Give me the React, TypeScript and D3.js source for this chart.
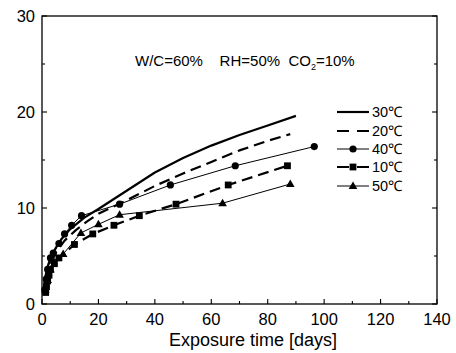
import React, { useRef, useEffect } from 'react';
import * as d3 from 'd3';

// Carbonation depth vs exposure time
const s30x = [0.5, 1, 2, 3, 5, 7, 10, 15, 20, 30, 40, 50, 60, 70, 80, 90];
const s30y = [1.0, 2.6, 3.9, 4.8, 5.9, 6.8, 7.8, 9.0, 9.9, 11.8, 13.7, 15.2, 16.5, 17.6, 18.6, 19.6];

const s20x = [0.5, 1, 2, 3, 5, 8, 12, 16, 20, 30, 40, 50, 60, 70, 80, 88];
const s20y = [1.0, 2.0, 3.3, 4.2, 5.4, 6.6, 7.7, 8.6, 9.4, 10.8, 12.3, 13.6, 14.8, 16.0, 17.0, 17.7];

const s40x = [1, 1.5, 2, 3, 4, 6, 8, 10.5, 14, 27.5, 45.5, 68.5, 96.5];
const s40y = [1.5, 2.6, 3.6, 4.8, 5.3, 6.3, 7.3, 8.2, 9.2, 10.4, 12.4, 14.4, 16.4];

const s10x = [1.3, 1.6, 2, 2.5, 3, 4.4, 6, 11.5, 18, 25.5, 34.5, 47.5, 66, 87];
const s10y = [1.2, 1.8, 2.4, 3.0, 3.6, 4.2, 4.8, 6.2, 7.3, 8.2, 9.2, 10.4, 12.4, 14.4];

const s50x = [1.2, 2, 3, 4, 7.5, 13.8, 20, 27.5, 64, 88];
const s50y = [1.5, 2.5, 3.6, 4.5, 5.2, 7.4, 8.3, 9.3, 10.5, 12.5];

const labels = ['30℃', '20℃', '40℃', '10℃', '50℃'];
const xTicks = [0, 20, 40, 60, 80, 100, 120, 140];
const yTicks = [0, 10, 20, 30];

type Series = {
  name: string;
  xs: number[];
  ys: number[];
  width: number;
  dash: string | null;
  marker: 'none' | 'circle' | 'square' | 'triangle';
};

const series: Series[] = [
  { name: labels[0], xs: s30x, ys: s30y, width: 2.2, dash: null, marker: 'none' },
  { name: labels[1], xs: s20x, ys: s20y, width: 2.2, dash: '11,6', marker: 'none' },
  { name: labels[2], xs: s40x, ys: s40y, width: 1, dash: null, marker: 'circle' },
  { name: labels[3], xs: s10x, ys: s10y, width: 2.2, dash: '11,6', marker: 'square' },
  { name: labels[4], xs: s50x, ys: s50y, width: 1, dash: null, marker: 'triangle' },
];

const App: React.FC = () => {
  const svgRef = useRef<SVGSVGElement | null>(null);
  const width = 456;
  const height = 353;
  const margin = { top: 16, right: 19, bottom: 49, left: 42 };

  useEffect(() => {
    if (!svgRef.current) return;
    const svg = d3.select(svgRef.current);
    svg.selectAll('*').remove();

    const font = 'Arial, "Liberation Sans", sans-serif';

    const x = d3.scaleLinear().domain([0, 140]).range([margin.left, width - margin.right]);
    const y = d3.scaleLinear().domain([0, 30]).range([height - margin.bottom, margin.top]);

    svg.append('rect').attr('width', width).attr('height', height).attr('fill', '#fff');

    const x0 = x(0), x1 = x(140), y0 = y(0), y1 = y(30);

    // frame
    svg.append('rect')
      .attr('x', x0).attr('y', y1)
      .attr('width', x1 - x0).attr('height', y0 - y1)
      .attr('fill', 'none').attr('stroke', '#000').attr('stroke-width', 1.3);

    const ticks = svg.append('g').attr('stroke', '#000').attr('stroke-width', 1.1);
    d3.range(0, 141, 10).forEach(v => {
      const len = v % 20 === 0 ? 5 : 3;
      ticks.append('line').attr('x1', x(v)).attr('x2', x(v)).attr('y1', y0).attr('y2', y0 - len);
    });
    d3.range(0, 31, 5).forEach(v => {
      const len = v % 10 === 0 ? 5 : 3;
      ticks.append('line').attr('x1', x0).attr('x2', x0 + len).attr('y1', y(v)).attr('y2', y(v));
      ticks.append('line').attr('x1', x1).attr('x2', x1 - len).attr('y1', y(v)).attr('y2', y(v));
    });

    svg.append('g').selectAll('text').data(xTicks).join('text')
      .attr('x', d => x(d)).attr('y', y0 + 21)
      .attr('text-anchor', 'middle')
      .attr('font-family', font).attr('font-size', 16.5)
      .text(d => d);

    svg.append('g').selectAll('text').data(yTicks).join('text')
      .attr('x', x0 - 7).attr('y', d => y(d) + 6)
      .attr('text-anchor', 'end')
      .attr('font-family', font).attr('font-size', 16.5)
      .text(d => d);

    svg.append('text')
      .attr('x', 253).attr('y', 346)
      .attr('text-anchor', 'middle')
      .attr('font-family', font).attr('font-size', 18)
      .text('Exposure time [days]');

    const ann = svg.append('text')
      .attr('x', 135).attr('y', 66)
      .attr('font-family', font).attr('font-size', 15);
    ann.append('tspan').text('W/C=60%\u00a0\u00a0\u00a0\u00a0RH=50%\u00a0\u00a0CO');
    ann.append('tspan').attr('font-size', 9).attr('dy', 4).text('2');
    ann.append('tspan').attr('dy', -4).text('=10%');

    const line = d3.line<[number, number]>()
      .x(d => x(d[0]))
      .y(d => y(d[1]))
      .curve(d3.curveLinear);

    const drawMarker = (g: d3.Selection<SVGGElement, unknown, null, undefined>, kind: string, cx: number, cy: number) => {
      if (kind === 'circle') {
        g.append('circle').attr('cx', cx).attr('cy', cy).attr('r', 3.6).attr('fill', '#000');
      } else if (kind === 'square') {
        g.append('rect').attr('x', cx - 3.4).attr('y', cy - 3.4).attr('width', 6.8).attr('height', 6.8).attr('fill', '#000');
      } else if (kind === 'triangle') {
        g.append('path')
          .attr('d', `M${cx},${cy - 4.5}L${cx + 4.3},${cy + 3}L${cx - 4.3},${cy + 3}Z`)
          .attr('fill', '#000');
      }
    };

    series.forEach(s => {
      const pts: [number, number][] = s.xs.map((v, i) => [v, s.ys[i]]);
      svg.append('path')
        .datum(pts)
        .attr('fill', 'none')
        .attr('stroke', '#000')
        .attr('stroke-width', s.width)
        .attr('stroke-dasharray', s.dash)
        .attr('stroke-linejoin', 'round')
        .attr('d', line);
      const g = svg.append('g');
      pts.forEach(p => drawMarker(g, s.marker, x(p[0]), y(p[1])));
    });

    // legend
    const legendY = [112, 131, 149, 167, 186];
    series.forEach((s, i) => {
      const ly = legendY[i];
      const g = svg.append('g');
      g.append('line')
        .attr('x1', 337).attr('x2', 369).attr('y1', ly).attr('y2', ly)
        .attr('stroke', '#000').attr('stroke-width', s.width)
        .attr('stroke-dasharray', s.dash ? '12,8' : null);
      drawMarker(g, s.marker, 353, ly);
      g.append('text')
        .attr('x', 372).attr('y', ly + 5)
        .attr('font-family', font).attr('font-size', 14.5)
        .text(s.name);
    });
  }, []);

  return (
    <svg
      ref={svgRef}
      width={width}
      height={height}
      style={{ position: 'absolute', left: 0, top: 0 }}
    />
  );
};

export default App;
